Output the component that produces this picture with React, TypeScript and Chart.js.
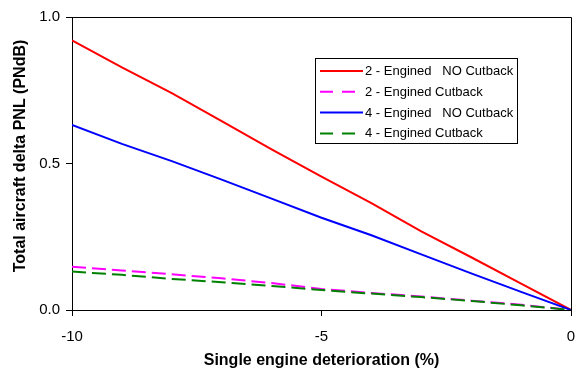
import React, { useEffect, useRef } from "react";
import { Chart, registerables } from "chart.js";

Chart.register(...registerables);

const xValues = [-10, -9, -8, -7, -6, -5, -4, -3, -2, -1, 0];
const twoEngNoCutback = [0.92, 0.828, 0.74, 0.645, 0.548, 0.455, 0.365, 0.268, 0.18, 0.09, 0];
const twoEngCutback = [0.148, 0.135, 0.122, 0.108, 0.092, 0.072, 0.058, 0.046, 0.032, 0.018, 0];
const fourEngNoCutback = [0.632, 0.567, 0.508, 0.445, 0.38, 0.315, 0.255, 0.19, 0.125, 0.062, 0];
const fourEngCutback = [0.131, 0.12, 0.106, 0.095, 0.082, 0.068, 0.056, 0.044, 0.031, 0.016, 0];

const seriesLabels = [
  "2 - Engined   NO Cutback",
  "2 - Engined Cutback",
  "4 - Engined   NO Cutback",
  "4 - Engined Cutback",
];
const yTicks = [0, 0.5, 1.0];
const xTitle = "Single engine deterioration (%)";
const yTitle = "Total aircraft delta PNL (PNdB)";

const FONT = "'Liberation Sans', Arial, Helvetica, sans-serif";

const toPoints = (ys: number[]) => xValues.map((x, i) => ({ x, y: ys[i] }));

const framePlugin = {
  id: "frame",
  afterDatasetsDraw(chart: any) {
    const { ctx, chartArea } = chart;
    ctx.save();
    ctx.strokeStyle = "#000";
    ctx.lineWidth = 1;
    ctx.beginPath();
    ctx.moveTo(chartArea.left, Math.round(chartArea.top) + 0.5);
    ctx.lineTo(Math.round(chartArea.right) + 0.5, Math.round(chartArea.top) + 0.5);
    ctx.lineTo(Math.round(chartArea.right) + 0.5, chartArea.bottom);
    ctx.stroke();
    ctx.restore();
  },
};

const yTitlePlugin = {
  id: "yTitle",
  afterDraw(chart: any) {
    const { ctx } = chart;
    ctx.save();
    ctx.translate(21, 156);
    ctx.rotate(-Math.PI / 2);
    ctx.font = `bold 16px ${FONT}`;
    ctx.fillStyle = "#000";
    ctx.textAlign = "center";
    ctx.textBaseline = "middle";
    ctx.fillText(yTitle, 0, 0);
    ctx.restore();
  },
};

const legendPlugin = {
  id: "boxLegend",
  afterDraw(chart: any) {
    const { ctx } = chart;
    const bx = 315.5, by = 58.5, bw = 202, bh = 85;
    ctx.save();
    ctx.fillStyle = "#fff";
    ctx.fillRect(bx, by, bw, bh);
    ctx.strokeStyle = "#000";
    ctx.lineWidth = 1;
    ctx.strokeRect(bx, by, bw, bh);
    ctx.font = `13px ${FONT}`;
    ctx.textBaseline = "middle";
    ctx.textAlign = "left";
    chart.data.datasets.forEach((ds: any, i: number) => {
      const y = 71 + i * 20.8;
      ctx.strokeStyle = ds.borderColor;
      ctx.lineWidth = 2;
      ctx.setLineDash(ds.borderDash && ds.borderDash.length ? [13, 9] : []);
      ctx.beginPath();
      ctx.moveTo(320, y);
      ctx.lineTo(363, y);
      ctx.stroke();
      ctx.setLineDash([]);
      ctx.fillStyle = "#000";
      ctx.fillText(ds.label, 365, y + 0.5);
    });
    ctx.restore();
  },
};

export default function App() {
  const canvasRef = useRef<HTMLCanvasElement>(null);

  useEffect(() => {
    if (!canvasRef.current) return;
    const chart = new Chart(canvasRef.current, {
      type: "line",
      data: {
        datasets: [
          {
            label: seriesLabels[0],
            data: toPoints(twoEngNoCutback),
            borderColor: "#ff0000",
            borderWidth: 2,
            pointRadius: 0,
            order: 3,
          },
          {
            label: seriesLabels[1],
            data: toPoints(twoEngCutback),
            borderColor: "#ff00ff",
            borderWidth: 2,
            borderDash: [14, 6],
            pointRadius: 0,
            order: 2,
          },
          {
            label: seriesLabels[2],
            data: toPoints(fourEngNoCutback),
            borderColor: "#0000ff",
            borderWidth: 2,
            pointRadius: 0,
            order: 1,
          },
          {
            label: seriesLabels[3],
            data: toPoints(fourEngCutback),
            borderColor: "#008000",
            borderWidth: 2,
            borderDash: [14, 6],
            pointRadius: 0,
            order: 0,
          },
        ],
      },
      options: {
        animation: false,
        responsive: true,
        maintainAspectRatio: false,
        layout: { padding: { top: 17, right: 4, left: 0, bottom: 0 } },
        plugins: { legend: { display: false }, tooltip: { enabled: false } },
        scales: {
          x: {
            type: "linear",
            min: -10,
            max: 0,
            afterFit: (s: any) => {
              s.height = 62;
              s.paddingLeft = 0;
              s.paddingRight = 0;
            },
            ticks: {
              stepSize: 5,
              padding: 12,
              color: "#000",
              font: { family: FONT, size: 15 },
              maxRotation: 0,
              callback: (v: any) => String(v),
            },
            grid: { drawOnChartArea: false, drawTicks: true, tickLength: 6, color: "#000" },
            border: { display: true, color: "#000", width: 1 },
            title: {
              display: true,
              text: xTitle,
              color: "#000",
              font: { family: FONT, size: 16, weight: "bold" },
              padding: { top: 0, bottom: 2 },
            },
          },
          y: {
            type: "linear",
            min: 0,
            max: 1,
            afterFit: (s: any) => {
              s.width = 72;
            },
            afterBuildTicks: (s: any) => {
              s.ticks = yTicks.map((v) => ({ value: v }));
            },
            ticks: {
              padding: 6,
              color: "#000",
              font: { family: FONT, size: 15 },
              callback: (v: any) => Number(v).toFixed(1),
            },
            grid: { drawOnChartArea: false, drawTicks: true, tickLength: 6, color: "#000" },
            border: { display: true, color: "#000", width: 1 },
            title: { display: false },
          },
        },
      },
      plugins: [framePlugin, yTitlePlugin, legendPlugin],
    });
    return () => chart.destroy();
  }, []);

  return (
    <div style={{ position: "absolute", left: 0, top: 0, width: 575, height: 372, background: "#fff" }}>
      <canvas ref={canvasRef} />
    </div>
  );
}
